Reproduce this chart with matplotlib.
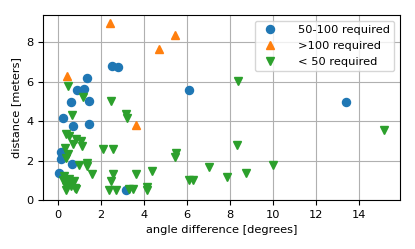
import matplotlib
matplotlib.use("Agg")
import matplotlib.pyplot as plt

# 50-100 required
mid_x = [2.53, 2.79, 1.34, 0.86, 1.20, 6.10, 0.61, 1.44, 0.24, 0.68, 1.42, 0.14, 0.12, 0.67, 0.06, 3.15, 13.41]
mid_y = [6.80, 6.74, 6.18, 5.57, 5.62, 5.57, 4.99, 5.02, 4.16, 3.76, 3.87, 2.43, 2.06, 1.84, 1.37, 0.53, 4.98]

# >100 required
high_x = [2.43, 5.46, 4.70, 0.43, 3.62]
high_y = [8.97, 8.38, 7.65, 6.30, 3.80]

# < 50 required
low_x = [0.48, 1.18, 2.45, 3.18, 3.20, 0.67, 0.36, 0.50, 0.82, 1.05, 1.10, 0.68, 0.30, 0.46, 0.35,
         2.07, 2.58, 5.49, 5.44, 8.34, 0.97, 1.36, 1.33, 1.60, 2.55, 2.45, 3.65, 4.39, 7.01, 6.10,
         6.29, 7.85, 8.74, 10.02, 15.18, 8.39, 2.35, 2.68, 3.30, 3.50, 4.12, 4.16, 0.77,
         0.27, 0.50, 0.74, 0.35, 0.58, 0.82, 0.35, 0.30, 0.45, 0.25]
low_y = [5.78, 5.25, 5.00, 4.35, 4.18, 4.30, 3.33, 3.25, 3.08, 2.99, 2.72, 2.82, 2.65, 2.31, 2.15,
         2.61, 2.57, 2.40, 2.20, 2.78, 1.75, 1.88, 1.72, 1.30, 1.33, 0.98, 1.30, 1.45, 1.65, 1.00,
         1.00, 1.17, 1.38, 1.77, 3.53, 6.06, 0.48, 0.50, 0.55, 0.55, 0.66, 0.52, 0.62,
         1.21, 1.04, 0.96, 0.72, 0.72, 0.57, 0.53, 0.90, 0.85, 1.00]

xticks = [0, 2, 4, 6, 8, 10, 12, 14]
yticks = [0, 2, 4, 6, 8]

plt.rcParams['font.size'] = 8.2
fig, ax = plt.subplots(figsize=(4.15, 2.49), dpi=100)
fig.subplots_adjust(left=0.104, right=0.964, top=0.94, bottom=0.197)

ax.plot(mid_x, mid_y, 'o', ms=5.8, color='#1f77b4', label='50-100 required')
ax.plot(high_x, high_y, '^', ms=5.8, color='#ff7f0e', label='>100 required')
ax.plot(low_x, low_y, 'v', ms=5.8, color='#2ca02c', label='< 50 required')

ax.set_ylim(bottom=0)
ax.set_xticks(xticks)
ax.set_yticks(yticks)
ax.grid(True)
ax.set_axisbelow(True)
ax.set_xlabel('angle difference [degrees]')
ax.set_ylabel('distance [meters]')
ax.legend(loc='upper right', handletextpad=1.4)

fig.savefig('out.png', dpi=100)
